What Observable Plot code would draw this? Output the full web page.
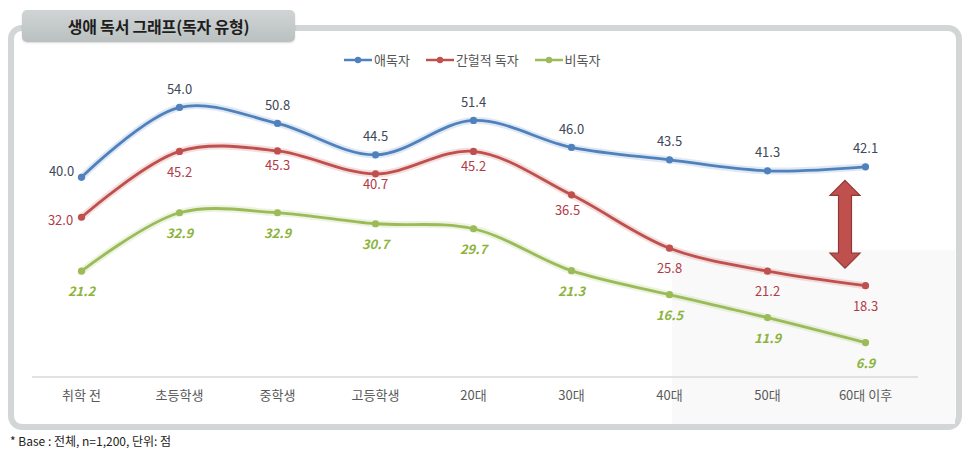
<!DOCTYPE html>
<html>
<head>
<meta charset="utf-8">
<script src="https://cdn.jsdelivr.net/npm/d3@7"></script>
<script src="https://cdn.jsdelivr.net/npm/@observablehq/plot@0.6"></script>
<style>
  html, body { margin: 0; padding: 0; background: #ffffff; }
  body { width: 970px; height: 454px; position: relative; overflow: hidden;
         font-family: "Noto Sans CJK KR", "Noto Sans", sans-serif; }
  #frame { position: absolute; left: 8px; top: 25px; width: 954px; height: 405px;
           box-sizing: border-box; border: 6px solid #d3d6d6; border-radius: 14px; background: #fff; }
  #shade { position: absolute; left: 672px; top: 250px; width: 283px; height: 174px; background: #f9f9f9; }
  #chart { position: absolute; left: 0; top: 0; }
  #tab { position: absolute; left: 22px; top: 10px; width: 273px; height: 32px; border-radius: 5px;
         background: linear-gradient(#d0d4d4, #bac0c0); box-shadow: 0 1px 2px rgba(0,0,0,0.15);
         display: flex; align-items: center; justify-content: center;
         font-size: 16px; font-weight: bold; color: #1e1e1e; letter-spacing: -0.2px; }
  #legend { position: absolute; top: 50px; left: 344px; display: flex; align-items: center;
            font-size: 13px; color: #555; }
  #legend .item { display: flex; align-items: center; margin-right: 16px; }
  #legend svg { margin-right: 2px; }
  #caption { position: absolute; left: 10px; top: 432px; font-size: 12px; color: #222; }
</style>
</head>
<body>
<div id="frame"></div>
<div id="shade"></div>
<div id="chart"></div>
<div id="tab"></div>
<div id="legend"></div>
<div id="caption"></div>
<script>
// ---- data ----
const titleText = "생애 독서 그래프(독자 유형)";
const captionText = "* Base : 전체, n=1,200, 단위: 점";
const categories = ["취학 전", "초등학생", "중학생", "고등학생", "20대", "30대", "40대", "50대", "60대 이후"];
const seriesNames = ["애독자", "간헐적 독자", "비독자"];
const avidReaders = [40.0, 54.0, 50.8, 44.5, 51.4, 46.0, 43.5, 41.3, 42.1];
const occasionalReaders = [32.0, 45.2, 45.3, 40.7, 45.2, 36.5, 25.8, 21.2, 18.3];
const nonReaders = [21.2, 32.9, 32.9, 30.7, 29.7, 21.3, 16.5, 11.9, 6.9];
const gapArrowSpan = [39.3, 21.7];

// ---- styling ----
const lineColors = ["#4f81bd", "#c0504d", "#9bbb59"];
const labelColors = ["#3d4858", "#b23a48", "#8cb43c"];

document.getElementById("tab").textContent = titleText;
document.getElementById("caption").textContent = captionText;

const seriesValues = [avidReaders, occasionalReaders, nonReaders];
const rows = [];
seriesNames.forEach((s, si) => {
  seriesValues[si].forEach((v, i) => rows.push({series: s, si, i, cat: categories[i], value: v}));
});

// label placement (pixel offsets)
function place(d) {
  if (d.si === 0) return d.i === 0 ? [-20, -6] : [0, -18];
  if (d.si === 1) {
    if (d.i === 0) return [-21, 4];
    if (d.i === 3) return [0, 11];
    if (d.i === 2 || d.i === 4) return [0, 15];
    if (d.i === 5) return [-4, 16];
    return [0, 21];
  }
  return [0, 21];
}
const groups = d3.groups(rows, d => place(d).join(","));
const labelMarks = groups.map(([key, g]) => {
  const [dx, dy] = key.split(",").map(Number);
  return [
    Plot.text(g.filter(d => d.si !== 2), {x: "cat", y: "value", text: d => d.value.toFixed(1), dx, dy,
      fill: d => labelColors[d.si], fontSize: 13}),
    Plot.text(g.filter(d => d.si === 2), {x: "cat", y: "value", text: d => d.value.toFixed(1), dx, dy,
      fill: labelColors[2], fontSize: 13, fontStyle: "italic", fontWeight: "bold"})
  ];
});

function gapArrow(index, scales) {
  const x = scales.x(categories[categories.length - 1]) - 20;
  const y1 = scales.y(gapArrowSpan[0]), y2 = scales.y(gapArrowSpan[1]);
  const hw = 15, hl = 15, sw = 6.5;
  const p = [
    [x, y1], [x + hw, y1 + hl], [x + sw, y1 + hl], [x + sw, y2 - hl], [x + hw, y2 - hl],
    [x, y2], [x - hw, y2 - hl], [x - sw, y2 - hl], [x - sw, y1 + hl], [x - hw, y1 + hl]
  ];
  const path = d3.create("svg:path")
    .attr("d", "M" + p.map(q => q.join(",")).join("L") + "Z")
    .attr("fill", "#c0504d").attr("stroke", "#8e3a37").attr("stroke-width", 1.2)
    .attr("stroke-linejoin", "miter");
  return path.node();
}

const chart = Plot.plot({
  width: 970,
  height: 454,
  marginLeft: 32,
  marginRight: 52,
  marginTop: 60,
  marginBottom: 77,
  style: {background: "transparent", fontFamily: "'Noto Sans CJK KR', sans-serif", overflow: "visible"},
  x: {type: "point", domain: categories, range: [80.7, 865.7], padding: 0},
  y: {domain: [0, 60], range: [376.5, 77], axis: null},
  color: {domain: seriesNames, range: lineColors},
  marks: [
    Plot.ruleY([0], {stroke: "#d9d9d9", strokeWidth: 1.5}),
    Plot.axisX({tickSize: 0, tickPadding: 13, fontSize: 13, fill: "#595959", label: null}),
    Plot.line(rows, {x: "cat", y: "value", z: "series", stroke: "series", curve: "catmull-rom",
      strokeWidth: 7, strokeOpacity: 0.18}),
    Plot.line(rows, {x: "cat", y: "value", z: "series", stroke: "series", curve: "catmull-rom",
      strokeWidth: 2.8}),
    Plot.dot(rows, {x: "cat", y: "value", fill: "series", r: 3.6}),
    ...labelMarks.flat(),
    gapArrow
  ]
});
document.getElementById("chart").appendChild(chart);

// legend
const legend = document.getElementById("legend");
seriesNames.forEach((s, i) => {
  const item = document.createElement("div");
  item.className = "item";
  item.innerHTML = `<svg width="28" height="10"><line x1="0" y1="5" x2="28" y2="5" stroke="${lineColors[i]}" stroke-width="2.5"/><circle cx="14" cy="5" r="3.2" fill="${lineColors[i]}"/></svg><span>${s}</span>`;
  legend.appendChild(item);
});
</script>
</body>
</html>
